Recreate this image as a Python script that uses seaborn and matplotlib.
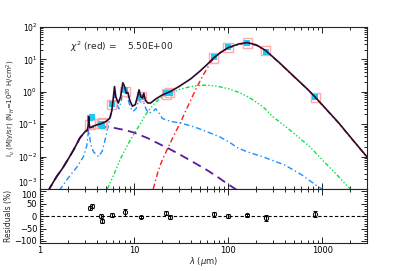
import numpy as np
import pandas as pd
import matplotlib
matplotlib.use('Agg')
import matplotlib.pyplot as plt
import seaborn as sns

# ---- model components ----
wave_total = [1.2, 1.3, 1.5, 1.75, 2.0, 2.3, 2.66, 3.0, 3.2, 3.25, 3.3, 3.35, 3.4, 3.6, 4.0, 4.5,
              5.0, 5.5, 5.8, 6.0, 6.2, 6.4, 6.8, 7.2, 7.6, 7.9, 8.3, 8.6, 9.0, 9.6, 10.3, 11.0,
              11.3, 11.8, 12.3, 12.7, 13.2, 14, 15, 17, 20, 24, 30, 40, 50, 60, 70, 85, 100,
              130, 160, 200, 250, 350, 500, 700, 850, 1000, 1500, 2000, 3000]
flux_total = [0.0008, 0.0012, 0.0024, 0.0045, 0.0085, 0.017, 0.038, 0.058, 0.068, 0.09, 0.17,
              0.09, 0.078, 0.085, 0.095, 0.105, 0.12, 0.15, 0.26, 0.6, 1.45, 0.7, 0.45, 0.7,
              1.9, 1.5, 0.9, 0.95, 0.55, 0.36, 0.4, 0.8, 1.15, 0.7, 0.65, 0.9, 0.55, 0.45,
              0.45, 0.6, 0.8, 1.0, 1.45, 2.5, 4.3, 7.0, 11, 17, 23, 30, 33, 28, 19, 8.0, 3.0,
              1.2, 0.67, 0.4, 0.11, 0.04, 0.0098]

wave_star = [1.2, 1.3, 1.5, 1.75, 2.0, 2.3, 2.66, 3.0, 3.5, 4.0, 5.0, 6.0, 8.0, 10, 14, 20, 24,
             30, 40, 60, 80, 100, 125]
flux_star = [0.0008, 0.0012, 0.0024, 0.0045, 0.0085, 0.017, 0.038, 0.058, 0.075, 0.08, 0.081,
             0.078, 0.066, 0.055, 0.037, 0.022, 0.017, 0.012, 0.0075, 0.0038, 0.0022, 0.0014,
             0.00092]

wave_pah = [1.6, 2.0, 2.5, 2.9, 3.15, 3.25, 3.3, 3.35, 3.45, 3.7, 4.2, 4.6, 5.0, 5.3, 5.6, 5.9,
            6.2, 6.5, 6.9, 7.3, 7.7, 8.1, 8.6, 9.2, 9.8, 10.5, 11.3, 11.9, 12.7, 13.5, 14.5, 16,
            17, 18.5, 20, 25, 31, 45, 60, 80, 105, 125, 160, 236, 400, 600, 900, 1000]
flux_pah = [0.0009, 0.0022, 0.005, 0.010, 0.022, 0.05, 0.1, 0.05, 0.025, 0.014, 0.010, 0.015,
            0.04, 0.09, 0.16, 0.3, 0.9, 0.45, 0.3, 0.5, 1.25, 0.9, 0.6, 0.32, 0.25, 0.3, 0.6,
            0.45, 0.45, 0.28, 0.22, 0.25, 0.3, 0.22, 0.15, 0.12, 0.11, 0.08, 0.058, 0.042,
            0.027, 0.019, 0.014, 0.0098, 0.0055, 0.0028, 0.0012, 0.001]

wave_vsg = [5.2, 6, 7.1, 8, 9.1, 10, 11.6, 13, 14.8, 17, 20, 24, 31, 40, 50, 60, 75, 100, 134,
            170, 236, 300, 457, 742, 1000, 1440, 1990]
flux_vsg = [0.001, 0.0025, 0.008, 0.016, 0.032, 0.05, 0.1, 0.18, 0.3, 0.48, 0.7, 0.9, 1.2, 1.45,
            1.58, 1.6, 1.5, 1.25, 0.93, 0.65, 0.34, 0.17, 0.065, 0.02, 0.008, 0.0027, 0.001]

wave_bg = [16, 18, 20, 23, 26, 31, 38, 46, 55, 67, 80, 100, 130, 160, 200, 250, 350, 500, 700,
           850, 1000, 1500, 2000, 3000]
flux_bg = [0.001, 0.0035, 0.008, 0.019, 0.04, 0.11, 0.4, 1.3, 3.5, 9.0, 15.5, 22, 29, 31.5, 27,
           18.5, 7.8, 2.95, 1.18, 0.66, 0.39, 0.108, 0.039, 0.0096]

# ---- photometry ----
band_wave = [3.4, 3.6, 4.5, 4.6, 5.8, 8.0, 12, 22, 24, 70, 100, 160, 250, 850]
band_obs = [0.155, 0.17, 0.1, 0.09, 0.41, 1.1, 0.68, 0.95, 0.9, 11.5, 23.5, 33, 17.5, 0.7]
band_model = [0.10, 0.105, 0.105, 0.11, 0.40, 1.0, 0.7, 0.85, 0.95, 11, 23, 32, 19, 0.67]
resid = [33, 40, 0, -18, 3, 15, -3, 12, -5, 8, 0, 3, -8, 10]
resid_err = [8, 8, 8, 8, 8, 15, 5, 8, 8, 10, 8, 6, 12, 12]

chi2_text = r'$\chi^2$ (red) =    5.50E+00'

sns.set_style("ticks")
plt.rcParams['font.family'] = ['DejaVu Sans']
plt.rcParams['mathtext.fontset'] = 'dejavusans'

fig = plt.figure(figsize=(4.07, 2.71), dpi=100)
ax = fig.add_axes([40 / 407, 82 / 271, 327 / 407, 162 / 271])
axr = fig.add_axes([40 / 407, 28 / 271, 327 / 407, 54 / 271], sharex=ax)

ax.set_xscale('log')
ax.set_yscale('log')

sns.lineplot(x=wave_bg, y=flux_bg, ax=ax, color='#ff1a1a', lw=1.0,
             linestyle=(0, (4, 2, 1, 2)), sort=False)
sns.lineplot(x=wave_vsg, y=flux_vsg, ax=ax, color='#00e640', lw=1.0,
             linestyle=(0, (3, 1.5, 1, 1.5, 1, 1.5, 1, 1.5)), sort=False)
sns.lineplot(x=wave_pah, y=flux_pah, ax=ax, color='#1e8fff', lw=1.0,
             linestyle=(0, (4, 2, 1, 2)), sort=False)
sns.lineplot(x=wave_star, y=flux_star, ax=ax, color='#5a1a9e', lw=1.3,
             linestyle=(0, (5, 3)), sort=False)

obs = pd.DataFrame({'wave': band_wave, 'obs': band_obs, 'model': band_model})
sns.scatterplot(data=obs, x='wave', y='model', ax=ax, marker='s', s=45,
                facecolor='none', edgecolor='#ffaaaa', linewidth=1.0, zorder=3)
sns.scatterplot(data=obs, x='wave', y='obs', ax=ax, marker='s', s=18,
                color='#1ec8f0', linewidth=0, zorder=4)

sns.lineplot(x=wave_total, y=flux_total, ax=ax, color='#2a0a2e', lw=1.2, sort=False, zorder=5)

ax.set_xlim(1, 3000)
ax.set_ylim(1e-3, 100)
ax.set_yticks([1e-3, 1e-2, 1e-1, 1, 10, 100])
ax.text(0.092, 0.877, chi2_text, transform=ax.transAxes, fontsize=6.5, va='center')
ax.set_ylabel(r'I$_\nu$ (MJy/sr) (N$_H$=10$^{20}$ H/cm$^2$)', fontsize=5, labelpad=1)
ax.tick_params(labelbottom=False)

# residuals
axr.axhline(0, color='black', lw=0.8, linestyle=(0, (3, 2)))
axr.errorbar(band_wave, resid, yerr=resid_err, fmt='o', ms=3, mfc='none', mec='black',
             ecolor='black', elinewidth=0.7, capsize=1.5, mew=0.7, zorder=3)
axr.set_ylim(-108, 108)
axr.set_yticks([-100, -50, 0, 50, 100])
axr.yaxis.set_minor_locator(matplotlib.ticker.MultipleLocator(10))
axr.set_ylabel('Residuals (%)', fontsize=5.5, labelpad=1)
axr.set_xlabel(r'$\lambda$ ($\mu$m)', fontsize=6, labelpad=0)
axr.xaxis.set_major_formatter(matplotlib.ticker.FuncFormatter(lambda v, p: '%d' % v))

for a in (ax, axr):
    a.tick_params(which='both', direction='in', top=True, right=True, labelsize=6,
                  width=0.6, colors='black', pad=2)
    a.tick_params(which='major', length=4)
    a.tick_params(which='minor', length=2)
    for s in a.spines.values():
        s.set_linewidth(0.8)
ax.tick_params(axis='y', labelsize=5.5)

# keep the two labels at the panel join apart
fig.canvas.draw()
ax.get_yticklabels()[0].set_verticalalignment('bottom')
axr.get_yticklabels()[-1].set_verticalalignment('top')

fig.savefig('out.png', dpi=100)
